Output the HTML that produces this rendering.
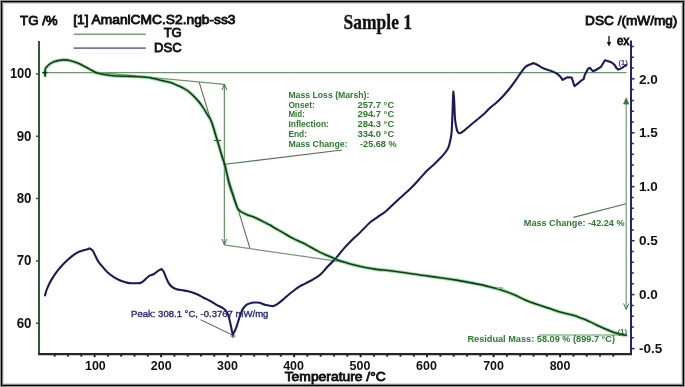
<!DOCTYPE html>
<html><head><meta charset="utf-8"><style>
html,body{margin:0;padding:0;background:#fff;}
body{width:685px;height:387px;overflow:hidden;position:relative;font-family:"Liberation Sans",sans-serif;}
#frame{position:absolute;left:0;top:0;width:685px;height:387px;filter:blur(0.3px);}
</style></head><body>
<svg id="frame" width="685" height="387" viewBox="0 0 685 387">
<rect x="0" y="0" width="685" height="387" fill="#fff"/>
<rect x="0.5" y="0.5" width="684" height="386" fill="none" stroke="#9a9a9a" stroke-width="1"/>
<rect x="2.5" y="2.5" width="680" height="382" fill="none" stroke="#888" stroke-width="1"/>
<rect x="3.5" y="3.5" width="678" height="380" fill="none" stroke="#d8d8d8" stroke-width="1"/>
<rect x="1.5" y="1.5" width="682" height="384" fill="none" stroke="#000" stroke-width="1.1"/>
<line x1="39" y1="41" x2="39" y2="354.5" stroke="#2f5a36" stroke-width="2"/>
<line x1="631" y1="40.5" x2="631" y2="354.5" stroke="#23236e" stroke-width="2"/>
<line x1="38.2" y1="354.2" x2="632" y2="354.2" stroke="#262626" stroke-width="2.2"/>
<line x1="36" y1="74.0" x2="38" y2="74.0" stroke="#2f5a36" stroke-width="1.5"/>
<line x1="36" y1="136.3" x2="38" y2="136.3" stroke="#2f5a36" stroke-width="1.5"/>
<line x1="36" y1="198.6" x2="38" y2="198.6" stroke="#2f5a36" stroke-width="1.5"/>
<line x1="36" y1="260.9" x2="38" y2="260.9" stroke="#2f5a36" stroke-width="1.5"/>
<line x1="36" y1="323.2" x2="38" y2="323.2" stroke="#2f5a36" stroke-width="1.5"/>
<line x1="632" y1="348.6" x2="634.5" y2="348.6" stroke="#23236e" stroke-width="1.5"/>
<line x1="632" y1="337.8" x2="633.8" y2="337.8" stroke="#23236e" stroke-width="1.5"/>
<line x1="632" y1="327.0" x2="633.8" y2="327.0" stroke="#23236e" stroke-width="1.5"/>
<line x1="632" y1="316.2" x2="633.8" y2="316.2" stroke="#23236e" stroke-width="1.5"/>
<line x1="632" y1="305.4" x2="633.8" y2="305.4" stroke="#23236e" stroke-width="1.5"/>
<line x1="632" y1="294.6" x2="634.5" y2="294.6" stroke="#23236e" stroke-width="1.5"/>
<line x1="632" y1="283.8" x2="633.8" y2="283.8" stroke="#23236e" stroke-width="1.5"/>
<line x1="632" y1="273.0" x2="633.8" y2="273.0" stroke="#23236e" stroke-width="1.5"/>
<line x1="632" y1="262.2" x2="633.8" y2="262.2" stroke="#23236e" stroke-width="1.5"/>
<line x1="632" y1="251.4" x2="633.8" y2="251.4" stroke="#23236e" stroke-width="1.5"/>
<line x1="632" y1="240.7" x2="634.5" y2="240.7" stroke="#23236e" stroke-width="1.5"/>
<line x1="632" y1="229.9" x2="633.8" y2="229.9" stroke="#23236e" stroke-width="1.5"/>
<line x1="632" y1="219.1" x2="633.8" y2="219.1" stroke="#23236e" stroke-width="1.5"/>
<line x1="632" y1="208.3" x2="633.8" y2="208.3" stroke="#23236e" stroke-width="1.5"/>
<line x1="632" y1="197.5" x2="633.8" y2="197.5" stroke="#23236e" stroke-width="1.5"/>
<line x1="632" y1="186.7" x2="634.5" y2="186.7" stroke="#23236e" stroke-width="1.5"/>
<line x1="632" y1="175.9" x2="633.8" y2="175.9" stroke="#23236e" stroke-width="1.5"/>
<line x1="632" y1="165.1" x2="633.8" y2="165.1" stroke="#23236e" stroke-width="1.5"/>
<line x1="632" y1="154.3" x2="633.8" y2="154.3" stroke="#23236e" stroke-width="1.5"/>
<line x1="632" y1="143.5" x2="633.8" y2="143.5" stroke="#23236e" stroke-width="1.5"/>
<line x1="632" y1="132.8" x2="634.5" y2="132.8" stroke="#23236e" stroke-width="1.5"/>
<line x1="632" y1="122.0" x2="633.8" y2="122.0" stroke="#23236e" stroke-width="1.5"/>
<line x1="632" y1="111.2" x2="633.8" y2="111.2" stroke="#23236e" stroke-width="1.5"/>
<line x1="632" y1="100.4" x2="633.8" y2="100.4" stroke="#23236e" stroke-width="1.5"/>
<line x1="632" y1="89.6" x2="633.8" y2="89.6" stroke="#23236e" stroke-width="1.5"/>
<line x1="632" y1="78.8" x2="634.5" y2="78.8" stroke="#23236e" stroke-width="1.5"/>
<line x1="632" y1="68.0" x2="633.8" y2="68.0" stroke="#23236e" stroke-width="1.5"/>
<line x1="632" y1="57.2" x2="633.8" y2="57.2" stroke="#23236e" stroke-width="1.5"/>
<line x1="632" y1="46.4" x2="633.8" y2="46.4" stroke="#23236e" stroke-width="1.5"/>
<line x1="54.7" y1="355" x2="54.7" y2="356.6" stroke="#1a1a1a" stroke-width="1.9"/>
<line x1="68.0" y1="355" x2="68.0" y2="356.6" stroke="#1a1a1a" stroke-width="1.9"/>
<line x1="81.3" y1="355" x2="81.3" y2="356.6" stroke="#1a1a1a" stroke-width="1.9"/>
<line x1="94.6" y1="355" x2="94.6" y2="357.2" stroke="#1a1a1a" stroke-width="1.9"/>
<line x1="107.9" y1="355" x2="107.9" y2="356.6" stroke="#1a1a1a" stroke-width="1.9"/>
<line x1="121.2" y1="355" x2="121.2" y2="356.6" stroke="#1a1a1a" stroke-width="1.9"/>
<line x1="134.5" y1="355" x2="134.5" y2="356.6" stroke="#1a1a1a" stroke-width="1.9"/>
<line x1="147.8" y1="355" x2="147.8" y2="356.6" stroke="#1a1a1a" stroke-width="1.9"/>
<line x1="161.1" y1="355" x2="161.1" y2="357.2" stroke="#1a1a1a" stroke-width="1.9"/>
<line x1="174.4" y1="355" x2="174.4" y2="356.6" stroke="#1a1a1a" stroke-width="1.9"/>
<line x1="187.7" y1="355" x2="187.7" y2="356.6" stroke="#1a1a1a" stroke-width="1.9"/>
<line x1="201.0" y1="355" x2="201.0" y2="356.6" stroke="#1a1a1a" stroke-width="1.9"/>
<line x1="214.3" y1="355" x2="214.3" y2="356.6" stroke="#1a1a1a" stroke-width="1.9"/>
<line x1="227.6" y1="355" x2="227.6" y2="357.2" stroke="#1a1a1a" stroke-width="1.9"/>
<line x1="240.9" y1="355" x2="240.9" y2="356.6" stroke="#1a1a1a" stroke-width="1.9"/>
<line x1="254.2" y1="355" x2="254.2" y2="356.6" stroke="#1a1a1a" stroke-width="1.9"/>
<line x1="267.5" y1="355" x2="267.5" y2="356.6" stroke="#1a1a1a" stroke-width="1.9"/>
<line x1="280.8" y1="355" x2="280.8" y2="356.6" stroke="#1a1a1a" stroke-width="1.9"/>
<line x1="294.1" y1="355" x2="294.1" y2="357.2" stroke="#1a1a1a" stroke-width="1.9"/>
<line x1="307.4" y1="355" x2="307.4" y2="356.6" stroke="#1a1a1a" stroke-width="1.9"/>
<line x1="320.7" y1="355" x2="320.7" y2="356.6" stroke="#1a1a1a" stroke-width="1.9"/>
<line x1="334.0" y1="355" x2="334.0" y2="356.6" stroke="#1a1a1a" stroke-width="1.9"/>
<line x1="347.3" y1="355" x2="347.3" y2="356.6" stroke="#1a1a1a" stroke-width="1.9"/>
<line x1="360.6" y1="355" x2="360.6" y2="357.2" stroke="#1a1a1a" stroke-width="1.9"/>
<line x1="373.9" y1="355" x2="373.9" y2="356.6" stroke="#1a1a1a" stroke-width="1.9"/>
<line x1="387.2" y1="355" x2="387.2" y2="356.6" stroke="#1a1a1a" stroke-width="1.9"/>
<line x1="400.5" y1="355" x2="400.5" y2="356.6" stroke="#1a1a1a" stroke-width="1.9"/>
<line x1="413.8" y1="355" x2="413.8" y2="356.6" stroke="#1a1a1a" stroke-width="1.9"/>
<line x1="427.1" y1="355" x2="427.1" y2="357.2" stroke="#1a1a1a" stroke-width="1.9"/>
<line x1="440.4" y1="355" x2="440.4" y2="356.6" stroke="#1a1a1a" stroke-width="1.9"/>
<line x1="453.7" y1="355" x2="453.7" y2="356.6" stroke="#1a1a1a" stroke-width="1.9"/>
<line x1="467.0" y1="355" x2="467.0" y2="356.6" stroke="#1a1a1a" stroke-width="1.9"/>
<line x1="480.3" y1="355" x2="480.3" y2="356.6" stroke="#1a1a1a" stroke-width="1.9"/>
<line x1="493.6" y1="355" x2="493.6" y2="357.2" stroke="#1a1a1a" stroke-width="1.9"/>
<line x1="506.9" y1="355" x2="506.9" y2="356.6" stroke="#1a1a1a" stroke-width="1.9"/>
<line x1="520.2" y1="355" x2="520.2" y2="356.6" stroke="#1a1a1a" stroke-width="1.9"/>
<line x1="533.5" y1="355" x2="533.5" y2="356.6" stroke="#1a1a1a" stroke-width="1.9"/>
<line x1="546.8" y1="355" x2="546.8" y2="356.6" stroke="#1a1a1a" stroke-width="1.9"/>
<line x1="560.1" y1="355" x2="560.1" y2="357.2" stroke="#1a1a1a" stroke-width="1.9"/>
<line x1="573.4" y1="355" x2="573.4" y2="356.6" stroke="#1a1a1a" stroke-width="1.9"/>
<line x1="586.7" y1="355" x2="586.7" y2="356.6" stroke="#1a1a1a" stroke-width="1.9"/>
<line x1="600.0" y1="355" x2="600.0" y2="356.6" stroke="#1a1a1a" stroke-width="1.9"/>
<line x1="613.3" y1="355" x2="613.3" y2="356.6" stroke="#1a1a1a" stroke-width="1.9"/>
<line x1="42" y1="72.6" x2="626.5" y2="72.6" stroke="#6f9272" stroke-width="1.4"/>
<line x1="95" y1="72.2" x2="224.5" y2="84.4" stroke="#6a9a6a" stroke-width="1.2"/>
<line x1="199.2" y1="82.4" x2="250" y2="248.4" stroke="#5a6e5a" stroke-width="1.1"/>
<line x1="224.3" y1="244.9" x2="345" y2="262.4" stroke="#7a947a" stroke-width="1.2"/>
<line x1="224.4" y1="85" x2="224.4" y2="244" stroke="#6f8f6f" stroke-width="1.3"/>
<path d="M222 90 L224.4 84 L226.8 90" fill="none" stroke="#3d7a3d" stroke-width="1"/>
<path d="M222 239 L224.4 245 L226.8 239" fill="none" stroke="#3d7a3d" stroke-width="1"/>
<line x1="223" y1="164.5" x2="342" y2="150" stroke="#4f744f" stroke-width="1.1"/>
<line x1="626.2" y1="99" x2="626.2" y2="309" stroke="#6a946a" stroke-width="1.1"/>
<path d="M623.6 104 L626.2 98 L628.8 104 Z" fill="#3d7a3d" stroke="#3d7a3d" stroke-width="0.8"/>
<path d="M623.6 303.5 L626.2 309.5 L628.8 303.5" fill="none" stroke="#3d7a3d" stroke-width="1"/>
<line x1="573.4" y1="217.4" x2="626.3" y2="203.7" stroke="#4f744f" stroke-width="1.1"/>
<line x1="538.8" y1="335" x2="627" y2="335" stroke="#5f9a5f" stroke-width="1.1"/>
<line x1="230.6" y1="336" x2="235.4" y2="336" stroke="#3a3a70" stroke-width="1"/>
<line x1="233" y1="334" x2="233" y2="338.2" stroke="#3a3a70" stroke-width="1"/>
<line x1="200.5" y1="319.7" x2="232.3" y2="335" stroke="#555" stroke-width="1"/>
<path d="M45.0 295.5 C45.2 294.7 45.8 292.2 46.4 290.5 C47.0 288.8 47.7 287.3 48.5 285.5 C49.3 283.7 50.2 281.9 51.4 279.9 C52.6 277.9 54.0 275.7 55.6 273.4 C57.2 271.1 59.4 268.4 61.3 266.3 C63.2 264.2 65.1 262.4 67.0 260.6 C68.9 258.8 70.9 257.1 72.7 255.7 C74.5 254.3 76.3 253.2 77.8 252.4 C79.3 251.6 80.3 251.4 81.6 250.9 C82.9 250.4 84.2 250.1 85.5 249.7 C86.8 249.3 88.8 248.6 89.4 248.4 M89.4 248.4 C89.8 248.6 91.1 249.2 91.7 249.7 C92.3 250.2 92.7 250.5 93.3 251.6 C93.9 252.7 94.8 254.8 95.6 256.3 C96.4 257.9 97.2 259.6 97.9 260.9 C98.6 262.1 99.1 262.7 100.0 263.8 C100.9 264.9 101.9 266.0 103.1 267.4 C104.3 268.8 105.7 270.6 107.2 272.1 C108.8 273.6 110.5 274.9 112.4 276.2 C114.3 277.5 116.5 278.8 118.6 279.8 C120.7 280.8 123.1 281.6 124.8 282.1 C126.5 282.7 127.5 282.9 129.0 283.1 C130.6 283.3 132.4 283.2 134.1 283.2 C135.8 283.2 137.9 283.3 139.3 283.1 C140.7 282.9 141.2 282.7 142.4 281.9 C143.6 281.1 145.3 279.3 146.5 278.3 C147.7 277.3 148.4 276.4 149.6 275.7 C150.8 275.0 152.4 274.9 153.8 274.1 C155.2 273.3 156.6 271.9 157.9 271.0 C159.2 270.1 160.9 269.3 161.5 269.0 M161.5 269.0 C161.8 269.4 162.9 270.2 163.6 271.5 C164.3 272.8 164.9 274.8 165.7 276.7 C166.5 278.6 167.4 280.9 168.4 282.6 C169.4 284.3 170.3 285.6 171.7 286.7 C173.1 287.8 174.7 288.7 176.7 289.3 C178.7 289.9 181.2 290.0 183.5 290.4 C185.8 290.8 188.0 291.1 190.2 291.8 C192.4 292.5 194.7 293.3 196.9 294.3 C199.1 295.3 201.4 296.6 203.6 297.7 C205.8 298.8 208.1 299.8 210.3 301.0 C212.5 302.2 215.0 304.1 217.0 305.2 C219.0 306.3 221.0 306.9 222.5 307.8 C224.0 308.7 225.0 309.5 226.0 310.8 C227.0 312.1 227.7 313.4 228.4 315.5 C229.1 317.6 229.7 320.5 230.3 323.2 C230.9 325.9 231.6 329.6 232.0 331.5 C232.4 333.4 232.8 333.8 233.0 334.3 M233.0 334.3 C233.2 333.8 233.9 332.7 234.5 331.5 C235.1 330.3 235.7 328.9 236.3 327.3 C236.9 325.7 237.4 323.7 238.0 322.0 C238.6 320.3 239.1 318.6 239.6 317.0 C240.1 315.4 240.7 313.8 241.2 312.5 C241.7 311.2 241.9 310.5 242.8 309.2 C243.7 307.9 245.2 305.8 246.7 304.7 C248.2 303.6 250.3 303.2 251.8 302.8 C253.3 302.4 254.2 302.5 255.5 302.5 C256.8 302.5 258.0 302.4 259.6 302.8 C261.2 303.2 262.9 304.1 265.0 304.7 C267.1 305.2 270.5 306.2 272.5 306.1 C274.5 306.0 275.2 305.3 276.9 304.3 C278.6 303.3 280.8 301.5 282.7 299.9 C284.6 298.3 286.4 296.6 288.6 294.8 C290.8 293.0 294.0 290.4 295.9 289.0 C297.8 287.6 298.4 287.1 300.0 286.2 C301.6 285.3 303.5 284.5 305.2 283.6 C306.9 282.7 308.6 281.9 310.3 281.0 C312.0 280.1 313.8 279.0 315.5 277.9 C317.2 276.8 318.7 276.2 320.7 274.3 C322.7 272.4 325.3 269.1 327.7 266.5 C330.1 263.9 332.6 261.9 335.3 258.9 C338.0 255.9 341.2 251.6 344.0 248.4 C346.8 245.2 349.9 242.0 352.2 239.7 C354.5 237.4 356.1 236.3 358.0 234.5 C359.9 232.7 361.3 231.2 363.4 229.1 C365.5 227.0 368.1 224.0 370.5 222.0 C372.9 220.0 375.2 218.8 377.6 217.1 C380.0 215.4 382.6 213.9 385.0 212.0 C387.4 210.1 389.5 207.8 392.0 205.5 C394.5 203.2 396.9 200.8 400.0 198.0 C403.1 195.2 407.4 191.5 410.5 188.5 C413.6 185.5 415.7 183.0 418.5 180.0 C421.3 177.0 424.5 173.2 427.1 170.6 C429.7 168.0 431.8 166.5 434.2 164.2 C436.6 161.9 439.5 159.0 441.4 157.0 C443.3 155.0 444.4 153.7 445.6 152.0 C446.8 150.3 447.8 148.8 448.5 147.1 C449.2 145.4 449.4 144.1 449.9 142.1 C450.4 140.1 450.9 137.8 451.3 135.0 C451.7 132.2 451.8 129.2 452.0 125.0 C452.2 120.8 452.4 114.5 452.6 110.0 C452.8 105.5 452.9 101.1 453.0 98.0 C453.1 94.9 453.3 92.7 453.4 91.6 M453.4 91.6 C453.5 93.1 453.9 96.2 454.2 100.7 C454.5 105.2 454.6 114.4 455.0 118.8 C455.4 123.2 455.9 124.9 456.3 127.0 C456.7 129.1 457.0 130.4 457.5 131.5 C458.0 132.6 458.3 133.4 459.4 133.3 C460.4 133.2 462.0 132.1 463.8 130.8 C465.6 129.5 468.2 127.1 470.4 125.3 C472.6 123.5 474.8 121.6 477.0 119.8 C479.2 118.0 481.4 116.3 483.6 114.3 C485.8 112.3 488.0 109.7 490.2 107.7 C492.4 105.7 494.6 104.3 496.8 102.3 C499.0 100.3 501.2 98.1 503.4 95.7 C505.6 93.3 507.8 90.8 510.0 88.0 C512.2 85.2 514.7 81.8 516.5 79.2 C518.3 76.6 519.4 74.6 520.9 72.6 C522.4 70.6 523.9 68.4 525.3 67.1 C526.6 65.8 527.7 65.4 529.0 64.8 C530.3 64.2 532.3 63.5 533.0 63.2 M533.0 63.2 C533.5 63.4 534.8 63.5 536.2 64.2 C537.6 64.9 539.7 66.5 541.4 67.4 C543.1 68.3 544.8 69.0 546.5 69.6 C548.2 70.2 550.0 70.4 551.7 71.1 C553.4 71.8 555.5 72.8 556.9 73.7 C558.3 74.6 559.1 75.5 560.1 76.5 C561.1 77.5 562.3 79.4 562.7 80.0 M562.7 80.0 L564.6 78.7 L567.2 77.4 L571.7 77.5 L573.2 82.3 L574.5 86.2 L577.7 83.6 L581.6 80.3 L583.6 79.1 L584.9 74.5 L586.1 72.6 L588.1 68.7 L590.0 67.8 L591.3 69.4 L593.2 71.3 L595.8 70.0 L601.0 66.8 L604.9 60.3 L607.5 61.0 L611.3 62.3 L614.6 64.9 L616.5 68.1 L618.4 69.6 L621.7 68.1 L625.5 65.5 L626.2 64.9" fill="none" stroke="#1c1a5a" stroke-width="2.1" stroke-linejoin="round" stroke-linecap="round"/>
<path d="M45.1 76.0 C45.1 75.4 45.0 73.5 45.0 72.4 C45.0 71.3 45.0 70.1 45.3 69.2 C45.5 68.3 45.8 68.0 46.5 67.2 C47.2 66.4 48.3 65.2 49.3 64.4 C50.3 63.6 51.5 62.9 52.5 62.4 C53.5 61.9 54.3 61.6 55.5 61.3 C56.7 61.0 58.1 60.6 59.5 60.4 C60.9 60.2 61.8 59.8 63.7 59.9 C65.6 60.0 68.2 60.2 70.7 60.8 C73.2 61.4 76.2 62.4 78.9 63.6 C81.6 64.8 85.2 66.8 87.0 67.8 C88.8 68.8 88.9 68.8 90.0 69.4 C91.1 70.0 92.3 70.7 93.5 71.3 C94.7 71.9 95.6 72.6 97.0 73.1 C98.4 73.6 100.0 73.7 101.7 74.0 C103.5 74.4 105.5 74.7 107.5 75.0 C109.5 75.3 111.1 75.5 113.4 75.7 C115.7 75.9 118.6 76.0 121.5 76.2 C124.4 76.3 128.0 76.3 130.9 76.4 C133.8 76.5 136.5 76.6 139.0 76.7 C141.5 76.8 143.9 77.0 146.1 77.3 C148.2 77.5 150.0 77.8 151.9 78.2 C153.8 78.5 155.8 78.9 157.7 79.4 C159.6 79.9 161.4 80.4 163.6 80.9 C165.8 81.4 168.6 82.0 170.7 82.6 C172.8 83.2 174.1 83.9 176.0 84.8 C177.9 85.6 179.8 86.2 182.1 87.5 C184.4 88.8 187.2 90.2 189.7 92.3 C192.2 94.4 195.1 97.4 197.3 99.9 C199.5 102.4 201.3 104.9 203.0 107.4 C204.7 109.9 206.4 113.0 207.7 115.0 C208.9 117.0 209.7 117.9 210.5 119.5 C211.3 121.1 211.3 120.9 212.5 124.5 C213.7 128.1 215.9 135.7 217.5 141.0 C219.1 146.3 220.8 152.2 222.1 156.5 C223.4 160.8 224.2 162.0 225.3 166.5 C226.5 171.0 227.6 178.2 229.0 183.3 C230.4 188.4 232.4 193.5 233.6 197.2 C234.8 200.9 235.7 203.5 236.4 205.5 C237.1 207.5 237.3 208.0 238.0 209.0 C238.7 210.0 239.4 210.7 240.8 211.6 C242.2 212.5 244.1 213.4 246.6 214.5 C249.1 215.6 253.0 216.7 255.9 218.0 C258.8 219.3 261.8 220.9 264.1 222.1 C266.4 223.3 268.0 223.9 269.9 225.0 C271.8 226.1 273.4 227.2 275.7 228.5 C278.0 229.8 280.9 231.4 283.8 233.1 C286.7 234.8 290.2 236.9 293.1 238.4 C296.0 239.9 299.1 241.2 301.4 242.3 C303.7 243.4 303.9 243.4 306.7 244.9 C309.5 246.4 314.5 249.4 318.4 251.4 C322.3 253.4 327.2 255.4 330.0 256.6 C332.8 257.9 333.4 258.1 335.3 258.9 C337.2 259.7 338.7 260.3 341.7 261.3 C344.7 262.3 349.5 263.8 353.4 264.8 C357.3 265.8 361.5 266.8 365.1 267.5 C368.7 268.2 370.5 268.5 375.0 269.1 C379.5 269.7 386.6 270.3 392.1 271.0 C397.6 271.7 402.9 272.5 408.2 273.2 C413.5 274.0 418.8 274.8 424.2 275.5 C429.6 276.3 434.9 277.0 440.3 277.8 C445.7 278.5 451.4 279.3 456.4 280.1 C461.3 280.9 465.7 281.8 470.0 282.6 C474.3 283.4 478.5 284.2 482.0 284.9 C485.5 285.7 487.7 286.3 491.0 287.2 C494.3 288.1 498.0 289.0 501.9 290.3 C505.8 291.5 510.4 293.2 514.3 294.8 C518.2 296.4 521.2 298.3 525.1 299.9 C529.0 301.6 533.4 303.2 537.5 304.6 C541.6 306.1 546.1 307.4 549.9 308.6 C553.6 309.9 556.1 311.0 560.0 312.1 C563.9 313.2 569.8 314.3 573.3 315.2 C576.8 316.2 578.4 317.1 581.0 318.1 C583.6 319.0 586.2 320.0 588.8 321.2 C591.4 322.3 594.0 323.7 596.6 324.9 C599.2 326.1 601.7 327.5 604.3 328.6 C606.9 329.7 609.5 330.8 612.1 331.7 C614.7 332.6 617.5 333.3 619.8 333.9 C622.1 334.5 625.0 335.1 626.0 335.3" fill="none" stroke="#3cc04a" stroke-width="3.6" stroke-linejoin="round" stroke-linecap="round" opacity="0.5"/>
<path d="M45.1 76.0 C45.1 75.4 45.0 73.5 45.0 72.4 C45.0 71.3 45.0 70.1 45.3 69.2 C45.5 68.3 45.8 68.0 46.5 67.2 C47.2 66.4 48.3 65.2 49.3 64.4 C50.3 63.6 51.5 62.9 52.5 62.4 C53.5 61.9 54.3 61.6 55.5 61.3 C56.7 61.0 58.1 60.6 59.5 60.4 C60.9 60.2 61.8 59.8 63.7 59.9 C65.6 60.0 68.2 60.2 70.7 60.8 C73.2 61.4 76.2 62.4 78.9 63.6 C81.6 64.8 85.2 66.8 87.0 67.8 C88.8 68.8 88.9 68.8 90.0 69.4 C91.1 70.0 92.3 70.7 93.5 71.3 C94.7 71.9 95.6 72.6 97.0 73.1 C98.4 73.6 100.0 73.7 101.7 74.0 C103.5 74.4 105.5 74.7 107.5 75.0 C109.5 75.3 111.1 75.5 113.4 75.7 C115.7 75.9 118.6 76.0 121.5 76.2 C124.4 76.3 128.0 76.3 130.9 76.4 C133.8 76.5 136.5 76.6 139.0 76.7 C141.5 76.8 143.9 77.0 146.1 77.3 C148.2 77.5 150.0 77.8 151.9 78.2 C153.8 78.5 155.8 78.9 157.7 79.4 C159.6 79.9 161.4 80.4 163.6 80.9 C165.8 81.4 168.6 82.0 170.7 82.6 C172.8 83.2 174.1 83.9 176.0 84.8 C177.9 85.6 179.8 86.2 182.1 87.5 C184.4 88.8 187.2 90.2 189.7 92.3 C192.2 94.4 195.1 97.4 197.3 99.9 C199.5 102.4 201.3 104.9 203.0 107.4 C204.7 109.9 206.4 113.0 207.7 115.0 C208.9 117.0 209.7 117.9 210.5 119.5 C211.3 121.1 211.3 120.9 212.5 124.5 C213.7 128.1 215.9 135.7 217.5 141.0 C219.1 146.3 220.8 152.2 222.1 156.5 C223.4 160.8 224.2 162.0 225.3 166.5 C226.5 171.0 227.6 178.2 229.0 183.3 C230.4 188.4 232.4 193.5 233.6 197.2 C234.8 200.9 235.7 203.5 236.4 205.5 C237.1 207.5 237.3 208.0 238.0 209.0 C238.7 210.0 239.4 210.7 240.8 211.6 C242.2 212.5 244.1 213.4 246.6 214.5 C249.1 215.6 253.0 216.7 255.9 218.0 C258.8 219.3 261.8 220.9 264.1 222.1 C266.4 223.3 268.0 223.9 269.9 225.0 C271.8 226.1 273.4 227.2 275.7 228.5 C278.0 229.8 280.9 231.4 283.8 233.1 C286.7 234.8 290.2 236.9 293.1 238.4 C296.0 239.9 299.1 241.2 301.4 242.3 C303.7 243.4 303.9 243.4 306.7 244.9 C309.5 246.4 314.5 249.4 318.4 251.4 C322.3 253.4 327.2 255.4 330.0 256.6 C332.8 257.9 333.4 258.1 335.3 258.9 C337.2 259.7 338.7 260.3 341.7 261.3 C344.7 262.3 349.5 263.8 353.4 264.8 C357.3 265.8 361.5 266.8 365.1 267.5 C368.7 268.2 370.5 268.5 375.0 269.1 C379.5 269.7 386.6 270.3 392.1 271.0 C397.6 271.7 402.9 272.5 408.2 273.2 C413.5 274.0 418.8 274.8 424.2 275.5 C429.6 276.3 434.9 277.0 440.3 277.8 C445.7 278.5 451.4 279.3 456.4 280.1 C461.3 280.9 465.7 281.8 470.0 282.6 C474.3 283.4 478.5 284.2 482.0 284.9 C485.5 285.7 487.7 286.3 491.0 287.2 C494.3 288.1 498.0 289.0 501.9 290.3 C505.8 291.5 510.4 293.2 514.3 294.8 C518.2 296.4 521.2 298.3 525.1 299.9 C529.0 301.6 533.4 303.2 537.5 304.6 C541.6 306.1 546.1 307.4 549.9 308.6 C553.6 309.9 556.1 311.0 560.0 312.1 C563.9 313.2 569.8 314.3 573.3 315.2 C576.8 316.2 578.4 317.1 581.0 318.1 C583.6 319.0 586.2 320.0 588.8 321.2 C591.4 322.3 594.0 323.7 596.6 324.9 C599.2 326.1 601.7 327.5 604.3 328.6 C606.9 329.7 609.5 330.8 612.1 331.7 C614.7 332.6 617.5 333.3 619.8 333.9 C622.1 334.5 625.0 335.1 626.0 335.3" fill="none" stroke="#123c18" stroke-width="1.6" stroke-linejoin="round" stroke-linecap="round"/>
<line x1="497.8" y1="287.7" x2="502.4" y2="288.3" stroke="#7ad07a" stroke-width="2" stroke-linecap="round"/>
<line x1="214" y1="140.5" x2="221" y2="140.5" stroke="#2d4f2d" stroke-width="1"/>
<line x1="42.2" y1="72.5" x2="47.5" y2="72.5" stroke="#0e3614" stroke-width="1.4"/>
<path d="M43.9 72.8 L46.3 72.8 L45.1 76.2 Z" fill="#0e3614"/>
<line x1="73.6" y1="34.2" x2="145.8" y2="34.2" stroke="#76a276" stroke-width="1.6"/>
<line x1="73.6" y1="48.1" x2="145.8" y2="48.1" stroke="#7676aa" stroke-width="1.6"/>
<text x="20.0" y="24.5" font-family="Liberation Sans" font-size="13.0" font-weight="normal" fill="#111" text-anchor="start" textLength="37.7" lengthAdjust="spacingAndGlyphs" stroke="#111" stroke-width="0.85">TG /%</text>
<text x="73.2" y="24.2" font-family="Liberation Sans" font-size="13.0" font-weight="normal" fill="#111" text-anchor="start" textLength="162.3" lengthAdjust="spacingAndGlyphs" stroke="#111" stroke-width="0.85">[1] AmaniCMC.S2.ngb-ss3</text>
<text x="181.7" y="37.3" font-family="Liberation Sans" font-size="13.0" font-weight="normal" fill="#111" text-anchor="end" stroke="#111" stroke-width="0.85">TG</text>
<text x="181.7" y="51.8" font-family="Liberation Sans" font-size="13.0" font-weight="normal" fill="#111" text-anchor="end" textLength="27.6" lengthAdjust="spacingAndGlyphs" stroke="#111" stroke-width="0.85">DSC</text>
<text x="343.6" y="28.9" font-family="Liberation Serif" font-size="21.0" font-weight="bold" fill="#111" text-anchor="start" textLength="68.4" lengthAdjust="spacingAndGlyphs" stroke="#111" stroke-width="0.35">Sample 1</text>
<text x="585.1" y="24.8" font-family="Liberation Sans" font-size="13.0" font-weight="normal" fill="#111" text-anchor="start" textLength="92.3" lengthAdjust="spacingAndGlyphs" stroke="#111" stroke-width="0.85">DSC /(mW/mg)</text>
<text x="617.0" y="44.6" font-family="Liberation Sans" font-size="12.0" font-weight="normal" fill="#111" text-anchor="start" textLength="12.3" lengthAdjust="spacingAndGlyphs" stroke="#111" stroke-width="0.85">ex</text>
<line x1="609" y1="36" x2="609" y2="44" stroke="#111" stroke-width="1.3"/>
<path d="M606.8 42 L609 46.6 L611.2 42 Z" fill="#111"/>
<text x="31.5" y="78.4" font-family="Liberation Sans" font-size="14.2" font-weight="bold" fill="#111" text-anchor="end" textLength="21.6" lengthAdjust="spacingAndGlyphs">100</text>
<text x="31.5" y="140.7" font-family="Liberation Sans" font-size="14.2" font-weight="bold" fill="#111" text-anchor="end" textLength="14.8" lengthAdjust="spacingAndGlyphs">90</text>
<text x="31.5" y="203.0" font-family="Liberation Sans" font-size="14.2" font-weight="bold" fill="#111" text-anchor="end" textLength="14.8" lengthAdjust="spacingAndGlyphs">80</text>
<text x="31.5" y="265.3" font-family="Liberation Sans" font-size="14.2" font-weight="bold" fill="#111" text-anchor="end" textLength="14.8" lengthAdjust="spacingAndGlyphs">70</text>
<text x="31.5" y="327.6" font-family="Liberation Sans" font-size="14.2" font-weight="bold" fill="#111" text-anchor="end" textLength="14.8" lengthAdjust="spacingAndGlyphs">60</text>
<text x="639.0" y="83.5" font-family="Liberation Sans" font-size="13.5" font-weight="bold" fill="#111" text-anchor="start">2.0</text>
<text x="639.0" y="137.4" font-family="Liberation Sans" font-size="13.5" font-weight="bold" fill="#111" text-anchor="start">1.5</text>
<text x="639.0" y="191.4" font-family="Liberation Sans" font-size="13.5" font-weight="bold" fill="#111" text-anchor="start">1.0</text>
<text x="639.0" y="245.4" font-family="Liberation Sans" font-size="13.5" font-weight="bold" fill="#111" text-anchor="start">0.5</text>
<text x="639.0" y="299.3" font-family="Liberation Sans" font-size="13.5" font-weight="bold" fill="#111" text-anchor="start">0.0</text>
<text x="639.0" y="353.2" font-family="Liberation Sans" font-size="13.5" font-weight="bold" fill="#111" text-anchor="start">-0.5</text>
<text x="95.4" y="369.6" font-family="Liberation Sans" font-size="13.5" font-weight="bold" fill="#111" text-anchor="middle" textLength="20.8" lengthAdjust="spacingAndGlyphs">100</text>
<text x="161.2" y="369.6" font-family="Liberation Sans" font-size="13.5" font-weight="bold" fill="#111" text-anchor="middle" textLength="20.8" lengthAdjust="spacingAndGlyphs">200</text>
<text x="227.5" y="369.6" font-family="Liberation Sans" font-size="13.5" font-weight="bold" fill="#111" text-anchor="middle" textLength="20.8" lengthAdjust="spacingAndGlyphs">300</text>
<text x="293.6" y="369.6" font-family="Liberation Sans" font-size="13.5" font-weight="bold" fill="#111" text-anchor="middle" textLength="20.8" lengthAdjust="spacingAndGlyphs">400</text>
<text x="360.0" y="369.6" font-family="Liberation Sans" font-size="13.5" font-weight="bold" fill="#111" text-anchor="middle" textLength="20.8" lengthAdjust="spacingAndGlyphs">500</text>
<text x="426.5" y="369.6" font-family="Liberation Sans" font-size="13.5" font-weight="bold" fill="#111" text-anchor="middle" textLength="20.8" lengthAdjust="spacingAndGlyphs">600</text>
<text x="493.6" y="369.6" font-family="Liberation Sans" font-size="13.5" font-weight="bold" fill="#111" text-anchor="middle" textLength="20.8" lengthAdjust="spacingAndGlyphs">700</text>
<text x="560.1" y="369.6" font-family="Liberation Sans" font-size="13.5" font-weight="bold" fill="#111" text-anchor="middle" textLength="20.8" lengthAdjust="spacingAndGlyphs">800</text>
<text x="284.7" y="381.0" font-family="Liberation Sans" font-size="13.0" font-weight="normal" fill="#111" text-anchor="start" textLength="101.1" lengthAdjust="spacingAndGlyphs" stroke="#111" stroke-width="0.85">Temperature /°C</text>
<text x="288.4" y="97.7" font-family="Liberation Sans" font-size="9.0" font-weight="bold" fill="#2a7a2d" text-anchor="start" textLength="81.0" lengthAdjust="spacingAndGlyphs">Mass Loss (Marsh):</text>
<text x="288.4" y="107.6" font-family="Liberation Sans" font-size="9.0" font-weight="bold" fill="#2a7a2d" text-anchor="start" textLength="26.3" lengthAdjust="spacingAndGlyphs">Onset:</text>
<text x="357.4" y="107.6" font-family="Liberation Sans" font-size="9.0" font-weight="bold" fill="#2a7a2d" text-anchor="start" textLength="36.8" lengthAdjust="spacingAndGlyphs">257.7 °C</text>
<text x="288.4" y="117.4" font-family="Liberation Sans" font-size="9.0" font-weight="bold" fill="#2a7a2d" text-anchor="start" textLength="16.4" lengthAdjust="spacingAndGlyphs">Mid:</text>
<text x="357.4" y="117.4" font-family="Liberation Sans" font-size="9.0" font-weight="bold" fill="#2a7a2d" text-anchor="start" textLength="36.8" lengthAdjust="spacingAndGlyphs">294.7 °C</text>
<text x="288.4" y="127.3" font-family="Liberation Sans" font-size="9.0" font-weight="bold" fill="#2a7a2d" text-anchor="start" textLength="40.5" lengthAdjust="spacingAndGlyphs">Inflection:</text>
<text x="357.4" y="127.3" font-family="Liberation Sans" font-size="9.0" font-weight="bold" fill="#2a7a2d" text-anchor="start" textLength="36.8" lengthAdjust="spacingAndGlyphs">284.3 °C</text>
<text x="288.4" y="137.2" font-family="Liberation Sans" font-size="9.0" font-weight="bold" fill="#2a7a2d" text-anchor="start" textLength="18.6" lengthAdjust="spacingAndGlyphs">End:</text>
<text x="357.4" y="137.2" font-family="Liberation Sans" font-size="9.0" font-weight="bold" fill="#2a7a2d" text-anchor="start" textLength="36.8" lengthAdjust="spacingAndGlyphs">334.0 °C</text>
<text x="288.4" y="147.1" font-family="Liberation Sans" font-size="9.0" font-weight="bold" fill="#2a7a2d" text-anchor="start" textLength="59.1" lengthAdjust="spacingAndGlyphs">Mass Change:</text>
<text x="360.0" y="147.1" font-family="Liberation Sans" font-size="9.0" font-weight="bold" fill="#2a7a2d" text-anchor="start" textLength="36.6" lengthAdjust="spacingAndGlyphs">-25.68 %</text>
<text x="523.8" y="225.6" font-family="Liberation Sans" font-size="9.0" font-weight="bold" fill="#2a7a2d" text-anchor="start" textLength="100.7" lengthAdjust="spacingAndGlyphs">Mass Change:  -42.24 %</text>
<text x="467.4" y="342.2" font-family="Liberation Sans" font-size="9.0" font-weight="bold" fill="#2a7a2d" text-anchor="start" textLength="147.6" lengthAdjust="spacingAndGlyphs">Residual Mass:  58.09 % (899.7 °C)</text>
<text x="131.1" y="317.2" font-family="Liberation Sans" font-size="9.0" font-weight="normal" fill="#2a2a78" text-anchor="start" textLength="137.3" lengthAdjust="spacingAndGlyphs" stroke="#2a2a78" stroke-width="0.35">Peak:  308.1 °C, -0.3767 mW/mg</text>
<text x="617.8" y="334.4" font-family="Liberation Sans" font-size="7.5" font-weight="normal" fill="#1f5f1f" text-anchor="start" stroke="#1f5f1f" stroke-width="0.20">(1)</text>
<text x="618.5" y="65.0" font-family="Liberation Sans" font-size="7.5" font-weight="normal" fill="#24246e" text-anchor="start" stroke="#24246e" stroke-width="0.20">(1)</text>
</svg>
</body></html>
